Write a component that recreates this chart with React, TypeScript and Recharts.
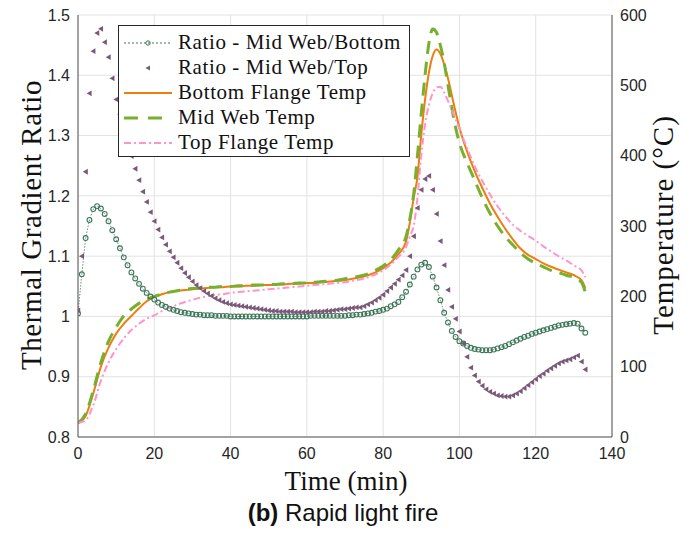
import React from 'react';
import { ComposedChart, Line, XAxis, YAxis, CartesianGrid } from 'recharts';

// ratio series sampled every minute from t = 0
const RATIO_STEP = 1;

const ratioBottom = [
  1.005, 1.07, 1.13, 1.16, 1.178, 1.183, 1.179, 1.17, 1.158, 1.143,
  1.128, 1.113, 1.098, 1.085, 1.073, 1.063, 1.054, 1.046, 1.039, 1.033,
  1.028, 1.023, 1.019, 1.016, 1.013, 1.011, 1.009, 1.007, 1.006, 1.005,
  1.004, 1.003, 1.003, 1.002, 1.002, 1.002, 1.001, 1.001, 1.001, 1.001,
  1.0, 1.0, 1.0, 1.0, 1.0, 1.0, 1.0, 1.0, 1.0, 1.0,
  1.0, 1.0, 1.0, 1.0, 1.0, 1.0, 1.0, 1.0, 1.0, 1.0,
  1.0, 1.001, 1.001, 1.001, 1.001, 1.001, 1.001, 1.001, 1.001, 1.001,
  1.001, 1.002, 1.002, 1.003, 1.003, 1.004, 1.005, 1.006, 1.008, 1.009,
  1.011, 1.013, 1.017, 1.02, 1.024, 1.032, 1.041, 1.053, 1.066, 1.078,
  1.086, 1.089, 1.082, 1.066, 1.048, 1.027, 1.006, 0.99, 0.976, 0.966,
  0.959, 0.955, 0.951, 0.948, 0.946, 0.945, 0.944, 0.944, 0.944, 0.945,
  0.947, 0.949, 0.951, 0.954, 0.957, 0.96, 0.963, 0.966, 0.968, 0.971,
  0.973, 0.975, 0.977, 0.979, 0.981, 0.983, 0.985, 0.986, 0.987, 0.988,
  0.989, 0.988, 0.98, 0.973,
];

const ratioTop = [
  1.01, 1.1, 1.24, 1.37, 1.44, 1.47, 1.477, 1.455, 1.43, 1.395,
  1.36, 1.335, 1.31, 1.288, 1.266, 1.245, 1.226, 1.207, 1.19, 1.173,
  1.158, 1.144, 1.131, 1.119, 1.108, 1.098, 1.089, 1.08, 1.072, 1.065,
  1.058, 1.052, 1.047, 1.042, 1.038, 1.034, 1.03, 1.027, 1.024, 1.022,
  1.02, 1.019, 1.018, 1.017, 1.016, 1.015, 1.014, 1.013, 1.012, 1.011,
  1.01, 1.009, 1.009, 1.008, 1.008, 1.008, 1.008, 1.007, 1.007, 1.007,
  1.007, 1.007, 1.008, 1.008, 1.008, 1.009, 1.009, 1.01, 1.011, 1.012,
  1.012, 1.013, 1.014, 1.015, 1.015, 1.017, 1.02, 1.023, 1.027, 1.031,
  1.036, 1.042, 1.048, 1.054, 1.061, 1.068, 1.077, 1.1, 1.133, 1.18,
  1.21, 1.228, 1.233, 1.21, 1.17, 1.125, 1.085, 1.044, 1.016, 0.996,
  0.975, 0.955, 0.933, 0.915, 0.902, 0.892, 0.885, 0.879, 0.875, 0.872,
  0.869, 0.868, 0.867, 0.867, 0.869, 0.872, 0.876, 0.881, 0.886, 0.891,
  0.896, 0.901, 0.905, 0.91, 0.914, 0.918, 0.922, 0.925, 0.927, 0.929,
  0.932, 0.935, 0.925, 0.912,
];

// temperature curves (°C)
const tempTime = [
  0, 2, 4, 6, 8, 10, 12, 14, 16, 18, 20, 22, 24, 26, 28, 30, 32, 34, 36, 38,
  40, 42, 44, 46, 48, 50, 52, 54, 56, 58, 60, 62, 64, 66, 68, 70, 72, 74, 76, 78,
  80, 82, 84,
  86, 87, 88, 89, 90, 91, 92, 93, 94, 95, 96, 97, 98, 99, 100,
  102, 104, 106, 108, 110, 112, 114, 116, 118, 120, 122, 124, 126, 128, 130, 132,
  133,
];

const bottomTemp = [
  20, 30, 62, 100, 127, 147, 161, 172, 183, 193, 199, 203, 206, 208, 209, 210, 211, 212, 213, 213,
  214, 214, 215, 215, 216, 216, 217, 217, 218, 218, 219, 219, 220, 221, 222, 223, 225, 227, 230, 234,
  240, 248, 260,
  278, 305, 340, 370, 430, 480, 518, 542, 551, 545, 530, 510, 486, 462, 440,
  406, 378, 354, 332, 313, 296, 281, 268, 259, 253, 247, 242, 238, 234, 230, 223,
  212,
];

const midTemp = [
  20, 33, 66, 106, 136, 156, 172, 182, 190, 196, 200, 203, 206, 208, 210, 211, 212, 213, 213, 214,
  214, 215, 215, 216, 216, 217, 217, 218, 218, 219, 219, 220, 221, 222, 223, 225, 227, 229, 232, 237,
  243, 252, 266,
  285, 310, 345, 400, 460, 515, 560, 580, 575, 557, 532, 500, 468, 440, 418,
  390, 365, 340, 318, 300, 285, 273, 262, 253, 247, 242, 237, 234, 230, 227, 220,
  206,
];

const topTemp = [
  20, 24, 45, 80, 106, 125, 140, 152, 161, 168, 173, 179, 184, 188, 192, 195, 198, 200, 202, 203,
  205, 206, 207, 208, 209, 210, 211, 212, 213, 214, 215, 216, 217, 218, 219, 220, 222, 224, 227, 231,
  237, 245, 256,
  270, 285, 300, 340, 400, 445, 472, 489, 497, 498, 490, 478, 465, 452, 438,
  411, 385, 364, 345, 328, 314, 302, 293, 286, 279, 271, 264, 257, 251, 244, 237,
  227,
];

const xTicks = [0, 20, 40, 60, 80, 100, 120, 140];
const ratioTicks = [0.8, 0.9, 1.0, 1.1, 1.2, 1.3, 1.4, 1.5];
const tempTicks = [0, 100, 200, 300, 400, 500, 600];

const C_BOTTOM_RATIO = '#3c7658';
const C_TOP_RATIO = '#7a5878';
const C_BOTTOM = '#ee7d0e';
const C_MID = '#76b02e';
const C_TOP = '#ff94c8';

const bottomRatioData = ratioBottom.map((v, i) => ({ t: i * RATIO_STEP, v }));
const topRatioData = ratioTop.map((v, i) => ({ t: i * RATIO_STEP, v }));
const bottomTempData = tempTime.map((t, i) => ({ t, v: bottomTemp[i] }));
const midTempData = tempTime.map((t, i) => ({ t, v: midTemp[i] }));
const topTempData = tempTime.map((t, i) => ({ t, v: topTemp[i] }));

const tickStyle = { fontFamily: '"Liberation Sans", Arial, sans-serif', fontSize: 16, fill: '#262626' };
const serif = '"Liberation Serif", "Times New Roman", serif';

const circleDot = (p: any) => (
  <circle key={p.key} cx={p.cx} cy={p.cy} r={2.4} fill="none" stroke={C_BOTTOM_RATIO} strokeWidth={1.1} />
);

const triDot = (p: any) => (
  <polygon
    key={p.key}
    points={`${p.cx - 2.8},${p.cy} ${p.cx + 2.2},${p.cy - 2.9} ${p.cx + 2.2},${p.cy + 2.9}`}
    fill={C_TOP_RATIO}
  />
);

const legendItems = [
  { label: 'Ratio - Mid Web/Bottom', kind: 'circle' },
  { label: 'Ratio - Mid Web/Top', kind: 'tri' },
  { label: 'Bottom Flange Temp', kind: 'solid' },
  { label: 'Mid Web Temp', kind: 'dash' },
  { label: 'Top Flange Temp', kind: 'dashdot' },
];

function LegendSample({ kind }: { kind: string }) {
  return (
    <svg width={52} height={20} style={{ display: 'block' }}>
      {kind === 'circle' && (
        <>
          <line x1={2} y1={10} x2={50} y2={10} stroke={C_BOTTOM_RATIO} strokeWidth={1} strokeDasharray="2 2" />
          <circle cx={26} cy={10} r={2.2} fill="none" stroke={C_BOTTOM_RATIO} />
        </>
      )}
      {kind === 'tri' && <polygon points="23.4,10 28,7.4 28,12.6" fill={C_TOP_RATIO} />}
      {kind === 'solid' && <line x1={2} y1={10} x2={50} y2={10} stroke={C_BOTTOM} strokeWidth={2} />}
      {kind === 'dash' && (
        <line x1={2} y1={10} x2={50} y2={10} stroke={C_MID} strokeWidth={3} strokeDasharray="14 10" />
      )}
      {kind === 'dashdot' && (
        <line x1={2} y1={10} x2={50} y2={10} stroke={C_TOP} strokeWidth={2} strokeDasharray="7 3 2 3" />
      )}
    </svg>
  );
}

export default function App() {
  return (
    <div style={{ position: 'absolute', left: 0, top: 0, width: 690, height: 539, background: '#fff' }}>
      <ComposedChart width={690} height={539} margin={{ top: 15, right: 18, bottom: 72, left: 18 }}>
        <CartesianGrid xAxisId="x" yAxisId="ratio" stroke="#e2e2e2" vertical horizontal />
        <XAxis
          xAxisId="x"
          dataKey="t"
          type="number"
          domain={[0, 140]}
          ticks={xTicks}
          allowDataOverflow
          height={30}
          tickLine={false}
          tickMargin={5}
          axisLine={{ stroke: '#555' }}
          tick={tickStyle}
        />
        <XAxis
          xAxisId="top"
          dataKey="t"
          type="number"
          orientation="top"
          domain={[0, 140]}
          height={0}
          tick={false}
          tickLine={false}
          axisLine={{ stroke: '#555' }}
        />
        <YAxis
          yAxisId="ratio"
          type="number"
          domain={[0.8, 1.5]}
          ticks={ratioTicks}
          allowDataOverflow
          width={60}
          tickLine={false}
          axisLine={{ stroke: '#555' }}
          tick={tickStyle}
          tickFormatter={(v: number) => String(Number(v.toFixed(1)))}
        />
        <YAxis
          yAxisId="temp"
          orientation="right"
          type="number"
          domain={[0, 600]}
          ticks={tempTicks}
          width={60}
          tickLine={false}
          axisLine={{ stroke: '#555' }}
          tick={tickStyle}
        />
        <Line
          xAxisId="x"
          yAxisId="ratio"
          data={bottomRatioData}
          dataKey="v"
          type="linear"
          stroke={C_BOTTOM_RATIO}
          strokeWidth={0.8}
          strokeDasharray="1.5 1.5"
          dot={circleDot}
          activeDot={false}
          isAnimationActive={false}
        />
        <Line
          xAxisId="x"
          yAxisId="ratio"
          data={topRatioData}
          dataKey="v"
          type="linear"
          stroke="none"
          dot={triDot}
          activeDot={false}
          isAnimationActive={false}
        />
        <Line
          xAxisId="x"
          yAxisId="temp"
          data={bottomTempData}
          dataKey="v"
          type="monotone"
          stroke={C_BOTTOM}
          strokeWidth={2}
          dot={false}
          activeDot={false}
          isAnimationActive={false}
        />
        <Line
          xAxisId="x"
          yAxisId="temp"
          data={midTempData}
          dataKey="v"
          type="monotone"
          stroke={C_MID}
          strokeWidth={3}
          strokeDasharray="13 8"
          dot={false}
          activeDot={false}
          isAnimationActive={false}
        />
        <Line
          xAxisId="x"
          yAxisId="temp"
          data={topTempData}
          dataKey="v"
          type="monotone"
          stroke={C_TOP}
          strokeWidth={2}
          strokeDasharray="7 3 2 3"
          dot={false}
          activeDot={false}
          isAnimationActive={false}
        />
      </ComposedChart>

      {/* legend box */}
      <div
        style={{
          position: 'absolute',
          left: 118,
          top: 25,
          width: 292,
          height: 132,
          border: '1px solid #262626',
          background: '#fff',
          padding: '4px 0 0 3px',
          boxSizing: 'border-box',
        }}
      >
        {legendItems.map((it) => (
          <div key={it.label} style={{ display: 'flex', alignItems: 'center', height: 25 }}>
            <LegendSample kind={it.kind} />
            <span style={{ fontFamily: serif, fontSize: 21, letterSpacing: 0.6, color: '#111', marginLeft: 4, whiteSpace: 'nowrap' }}>
              {it.label}
            </span>
          </div>
        ))}
      </div>

      {/* axis titles */}
      <div
        style={{
          position: 'absolute',
          left: 31,
          top: 225,
          transform: 'translate(-50%, -50%) rotate(-90deg)',
          fontFamily: serif,
          fontSize: 29,
          letterSpacing: 0.6,
          color: '#111',
          whiteSpace: 'nowrap',
        }}
      >
        Thermal Gradient Ratio
      </div>
      <div
        style={{
          position: 'absolute',
          left: 663,
          top: 225,
          transform: 'translate(-50%, -50%) rotate(-90deg)',
          fontFamily: serif,
          fontSize: 29,
          letterSpacing: 1,
          color: '#111',
          whiteSpace: 'nowrap',
        }}
      >
        Temperature (°C)
      </div>
      <div
        style={{
          position: 'absolute',
          left: 346,
          top: 481,
          transform: 'translate(-50%, -50%)',
          fontFamily: serif,
          fontSize: 27,
          color: '#111',
          whiteSpace: 'nowrap',
        }}
      >
        Time (min)
      </div>
      <div
        style={{
          position: 'absolute',
          left: 343,
          top: 513,
          transform: 'translate(-50%, -50%)',
          fontFamily: '"Liberation Sans", Arial, sans-serif',
          fontSize: 24,
          color: '#111',
          whiteSpace: 'nowrap',
        }}
      >
        <b>(b)</b> Rapid light fire
      </div>
    </div>
  );
}
